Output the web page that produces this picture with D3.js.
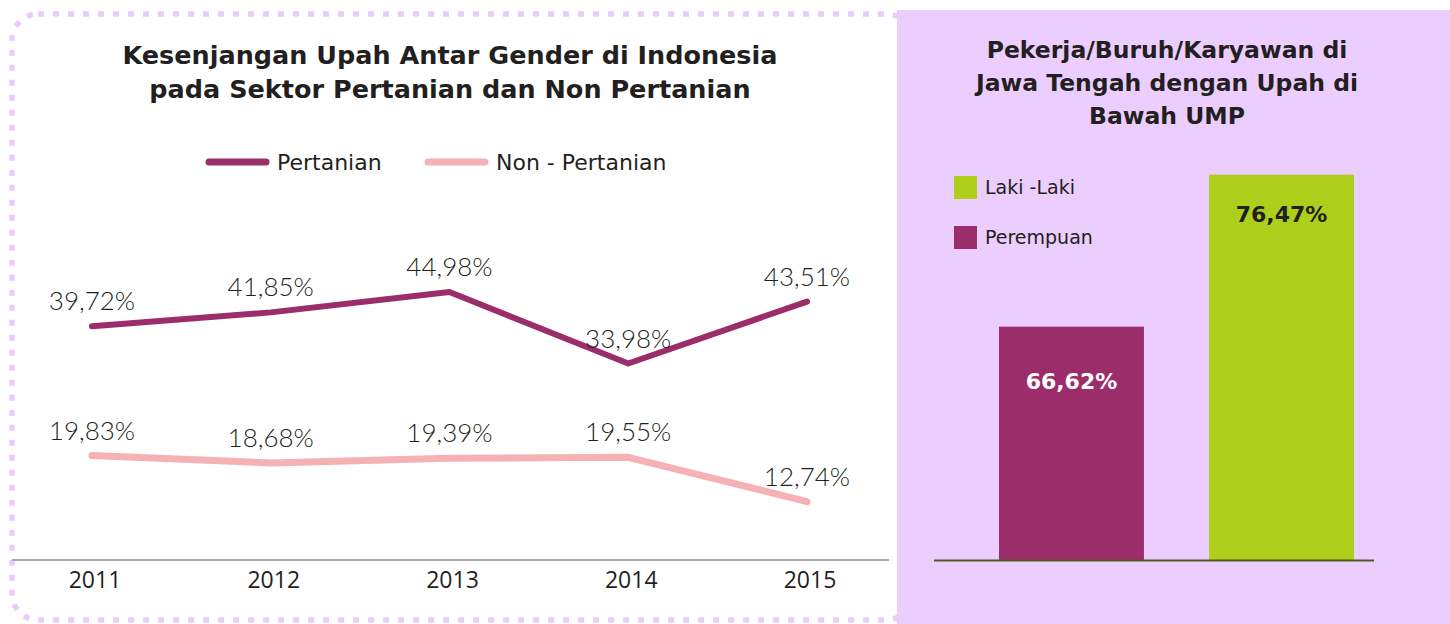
<!DOCTYPE html>
<html>
<head>
<meta charset="utf-8">
<script src="https://cdn.jsdelivr.net/npm/d3@7"></script>
<style>
    body { margin: 0; background: #fff; }
    svg { display: block; }
    text { fill: #231f20; }
</style>
</head>
<body>
<div id="chart"></div>
<script>
// line chart data
const years = ["2011", "2012", "2013", "2014", "2015"];
const pertanian = [39.72, 41.85, 44.98, 33.98, 43.51];
const nonPertanian = [19.83, 18.68, 19.39, 19.55, 12.74];
const lineSeriesNames = ["Pertanian", "Non - Pertanian"];
const lineTitle = ["Kesenjangan Upah Antar Gender di Indonesia", "pada Sektor Pertanian dan Non Pertanian"];

// bar chart data
const barCategories = ["Perempuan", "Laki -Laki"];
const barValues = [66.62, 76.47];
const barLegend = ["Laki -Laki", "Perempuan"];
const barTitle = ["Pekerja/Buruh/Karyawan di", "Jawa Tengah dengan Upah di", "Bawah UMP"];

const W = 1450, H = 624;
const PURPLE = "#9b2d6a", PINK = "#f4b2b4", GREEN = "#adcf1c", LAVENDER = "#ebcefd";
const FONT = "'DejaVu Sans', sans-serif";

const fmt = v => d3.format(".2f")(v).replace(".", ",") + "%";

const svg = d3.select("#chart").append("svg")
    .attr("width", W)
    .attr("height", H);

// ---------- left panel: line chart ----------
// dotted rounded frame
svg.append("rect")
    .attr("x", 12).attr("y", 14)
    .attr("width", 900).attr("height", 606)
    .attr("rx", 26)
    .attr("fill", "none")
    .attr("stroke", "#e9cbfc")
    .attr("stroke-width", 5.5)
    .attr("stroke-dasharray", "6 9");

svg.selectAll(".line-title")
    .data(lineTitle)
    .enter().append("text")
    .attr("class", "line-title")
    .attr("x", 450)
    .attr("y", (d, i) => 64 + i * 34)
    .attr("text-anchor", "middle")
    .style("font-family", FONT)
    .style("font-weight", "bold")
    .style("font-size", "25.5px")
    .text(d => d);

// legend
const lineColors = [PURPLE, PINK];
const legendX = [206, 425];
const lineLegend = svg.selectAll(".line-legend")
    .data(lineSeriesNames)
    .enter().append("g")
    .attr("class", "line-legend")
    .attr("transform", (d, i) => `translate(${legendX[i]}, 162)`);

lineLegend.append("line")
    .attr("x1", 3).attr("x2", 60)
    .attr("stroke", (d, i) => lineColors[i])
    .attr("stroke-width", 7)
    .attr("stroke-linecap", "round");

lineLegend.append("text")
    .attr("x", 71).attr("y", 8)
    .style("font-family", FONT)
    .style("font-size", "22px")
    .text(d => d);

const x = d3.scalePoint().domain(years).range([92, 807]);
const y = d3.scaleLinear().domain([0, 50]).range([584.4, 259.4]);

// baseline axis
svg.append("line")
    .attr("x1", 12).attr("x2", 889)
    .attr("y1", 560).attr("y2", 560)
    .attr("stroke", "#a8a8a8")
    .attr("stroke-width", 2);

svg.selectAll(".year")
    .data(years)
    .enter().append("text")
    .attr("class", "year")
    .attr("x", d => x(d) + 3)
    .attr("y", 588)
    .attr("text-anchor", "middle")
    .style("font-family", "'Open Sans', sans-serif")
    .style("font-size", "23px")
    .text(d => d);

const lineGen = d3.line()
    .x((d, i) => x(years[i]))
    .y(d => y(d));

[pertanian, nonPertanian].forEach((series, k) => {
    svg.append("path")
        .datum(series)
        .attr("d", lineGen)
        .attr("fill", "none")
        .attr("stroke", lineColors[k])
        .attr("stroke-width", k === 0 ? 6 : 7)
        .attr("stroke-linecap", "round")
        .attr("stroke-linejoin", "round");

    // value labels sit a little above each point
    svg.selectAll(".val-" + k)
        .data(series)
        .enter().append("text")
        .attr("class", "val-" + k)
        .attr("x", (d, i) => x(years[i]))
        .attr("y", d => y(d) - 16)
        .attr("text-anchor", "middle")
        .style("font-family", "Lato, sans-serif")
        .style("font-weight", 300)
        .style("font-size", "26px")
        .text(d => fmt(d));
});

// ---------- right panel: bar chart ----------
svg.append("rect")
    .attr("x", 897).attr("y", 10)
    .attr("width", W - 897).attr("height", H - 10)
    .attr("fill", LAVENDER);

svg.selectAll(".bar-title")
    .data(barTitle)
    .enter().append("text")
    .attr("class", "bar-title")
    .attr("x", 1167)
    .attr("y", (d, i) => 58 + i * 33)
    .attr("text-anchor", "middle")
    .style("font-family", FONT)
    .style("font-weight", "bold")
    .style("font-size", "23.5px")
    .text(d => d);

const barColor = d3.scaleOrdinal().domain(["Laki -Laki", "Perempuan"]).range([GREEN, PURPLE]);

const barLeg = svg.selectAll(".bar-legend")
    .data(barLegend)
    .enter().append("g")
    .attr("class", "bar-legend")
    .attr("transform", (d, i) => `translate(954, ${176 + i * 50})`);

barLeg.append("rect")
    .attr("width", 23).attr("height", 23)
    .attr("fill", d => barColor(d));

barLeg.append("text")
    .attr("x", 31).attr("y", 18)
    .style("font-family", FONT)
    .style("font-size", "19px")
    .text(d => d);

const xb = d3.scaleBand().domain(barCategories).range([978, 1375]).paddingInner(0.31).paddingOuter(0.1);
const yb = d3.scaleLinear().domain([51.5, 80]).range([560, 120.2]);

svg.selectAll(".bar")
    .data(barCategories)
    .enter().append("rect")
    .attr("class", "bar")
    .attr("x", d => xb(d))
    .attr("y", (d, i) => yb(barValues[i]))
    .attr("width", xb.bandwidth())
    .attr("height", (d, i) => yb.range()[0] - yb(barValues[i]))
    .attr("fill", d => barColor(d));

svg.append("line")
    .attr("x1", 934).attr("x2", 1374)
    .attr("y1", 560.5).attr("y2", 560.5)
    .attr("stroke", "#4f5a1c")
    .attr("stroke-width", 2);

svg.selectAll(".bar-val")
    .data(barCategories)
    .enter().append("text")
    .attr("class", "bar-val")
    .attr("x", d => xb(d) + xb.bandwidth() / 2)
    .attr("y", (d, i) => yb(barValues[i]) + (i === 0 ? 62 : 47))
    .attr("text-anchor", "middle")
    .style("font-family", FONT)
    .style("font-weight", "bold")
    .style("font-size", "22px")
    .style("fill", (d, i) => i === 0 ? "#fff" : "#231f20")
    .text((d, i) => fmt(barValues[i]));
</script>
</body>
</html>
